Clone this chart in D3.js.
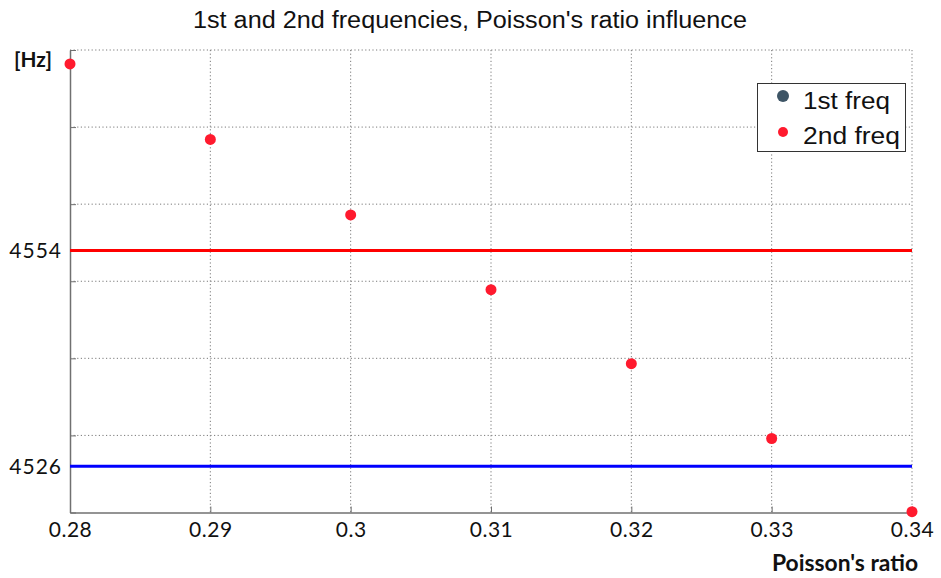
<!DOCTYPE html>
<html><head><meta charset="utf-8">
<script src="https://cdn.jsdelivr.net/npm/d3@7"></script>
<style>body{margin:0;background:#fff}svg{display:block}</style>
</head><body>
<svg id="chart" width="941" height="578"></svg>
<script>
const poisson = [0.28, 0.29, 0.30, 0.31, 0.32, 0.33, 0.34];
const freq2 = [4578.2, 4568.4, 4558.6, 4548.9, 4539.3, 4529.6, 4520.1];
const xTickValues = [0.28, 0.29, 0.30, 0.31, 0.32, 0.33, 0.34];
const xTickLabels = ["0.28", "0.29", "0.3", "0.31", "0.32", "0.33", "0.34"];
const yGridValues = [4520, 4530, 4540, 4550, 4560, 4570, 4580];
const yTickLabels = [4554, 4526];
const refLineValues = [4554, 4526];
const legendLabels = ["1st freq", "2nd freq"];
const titleText = "1st and 2nd frequencies, Poisson's ratio influence";

const svg = d3.select("#chart");
const W = 941, H = 578;
const m = {left: 70, right: 29, top: 50, bottom: 65.5};
const x = d3.scaleLinear().domain([0.28, 0.34]).range([m.left, W - m.right]);
const y = d3.scaleLinear().domain([4520, 4580]).range([H - m.bottom, m.top]);

// grid
const grid = svg.append("g").attr("stroke", "#7a7a7a").attr("stroke-width", 1).attr("stroke-dasharray", "1.2,2.4");
grid.selectAll(".vg").data(xTickValues.slice(1)).join("line")
  .attr("x1", d => x(d)).attr("x2", d => x(d)).attr("y1", y(4580)).attr("y2", y(4520));
grid.selectAll(".hg").data(yGridValues.slice(1)).join("line")
  .attr("y1", d => y(d)).attr("y2", d => y(d)).attr("x1", x(0.28)).attr("x2", x(0.34));

// axes
const xAxis = d3.axisBottom(x).tickValues(xTickValues).tickSizeInner(-6).tickSizeOuter(0)
  .tickPadding(10).tickFormat((d, i) => xTickLabels[i]);
const gx = svg.append("g").attr("transform", `translate(0,${y(4520)})`).call(xAxis);
gx.select(".domain").attr("stroke", "#707070").attr("stroke-width", 1.5);
gx.selectAll(".tick line").attr("stroke", "#707070");
gx.selectAll("text").attr("font-family", "Lato, 'Open Sans', sans-serif").attr("font-size", 21)
  .attr("letter-spacing", 0.5).attr("fill", "#111").attr("dy", "0.71em");

const yAxis = d3.axisLeft(y).tickValues(yGridValues).tickSizeInner(-6).tickSizeOuter(0).tickFormat("");
const gy = svg.append("g").attr("transform", `translate(${x(0.28)},0)`).call(yAxis);
gy.select(".domain").attr("stroke", "#707070").attr("stroke-width", 1.5);
gy.selectAll(".tick line").attr("stroke", "#707070");

svg.append("g").selectAll("text").data(yTickLabels).join("text")
  .attr("x", x(0.28) - 8).attr("y", d => y(d)).attr("dy", "0.35em")
  .attr("text-anchor", "end").attr("font-family", "Lato, 'Open Sans', sans-serif")
  .attr("font-size", 21).attr("letter-spacing", 1).attr("fill", "#111").text(d => d);

// reference lines
const refColors = ["#ff0000", "#0000ff"];
svg.append("g").selectAll("line").data(refLineValues).join("line")
  .attr("x1", x(0.28)).attr("x2", x(0.34)).attr("y1", d => y(d)).attr("y2", d => y(d))
  .attr("stroke", (d, i) => refColors[i]).attr("stroke-width", 3);

// points
svg.append("g").selectAll("circle").data(poisson).join("circle")
  .attr("cx", d => x(d)).attr("cy", (d, i) => y(freq2[i])).attr("r", 5.5).attr("fill", "#ff1a2e");

// title
svg.append("text").attr("x", 193).attr("y", 28)
  .attr("font-family", "'Liberation Sans', Arial, sans-serif").attr("font-size", 23)
  .attr("textLength", 554).attr("lengthAdjust", "spacingAndGlyphs").attr("fill", "#111").text(titleText);

// axis labels
svg.append("text").attr("x", 14).attr("y", 67).attr("font-family", "Lato, sans-serif")
  .attr("font-weight", "bold").attr("font-size", 21).attr("textLength", 38).attr("lengthAdjust", "spacingAndGlyphs")
  .attr("fill", "#111").text("[Hz]");
svg.append("text").attr("x", 772).attr("y", 571).attr("font-family", "Lato, sans-serif")
  .attr("font-weight", "bold").attr("font-size", 22).attr("textLength", 146).attr("lengthAdjust", "spacingAndGlyphs")
  .attr("fill", "#111").text("Poisson's ratio");

// legend
const lg = svg.append("g");
lg.append("rect").attr("x", 757.5).attr("y", 83.5).attr("width", 148).attr("height", 68)
  .attr("fill", "#fff").attr("stroke", "#333").attr("stroke-width", 1);
const legendColors = ["#3e5566", "#ff1a2e"];
const legendR = [6, 5];
lg.selectAll("circle").data(legendLabels).join("circle")
  .attr("cx", 783).attr("cy", (d, i) => 96 + i * 36).attr("r", (d, i) => legendR[i]).attr("fill", (d, i) => legendColors[i]);
lg.selectAll("text").data(legendLabels).join("text")
  .attr("x", 803).attr("y", (d, i) => 109 + i * 35).attr("font-family", "'Liberation Sans', Arial, sans-serif")
  .attr("font-size", 23).attr("textLength", (d, i) => i === 0 ? 87 : 97).attr("lengthAdjust", "spacingAndGlyphs")
  .attr("fill", "#111").text(d => d);
</script>
</body></html>
